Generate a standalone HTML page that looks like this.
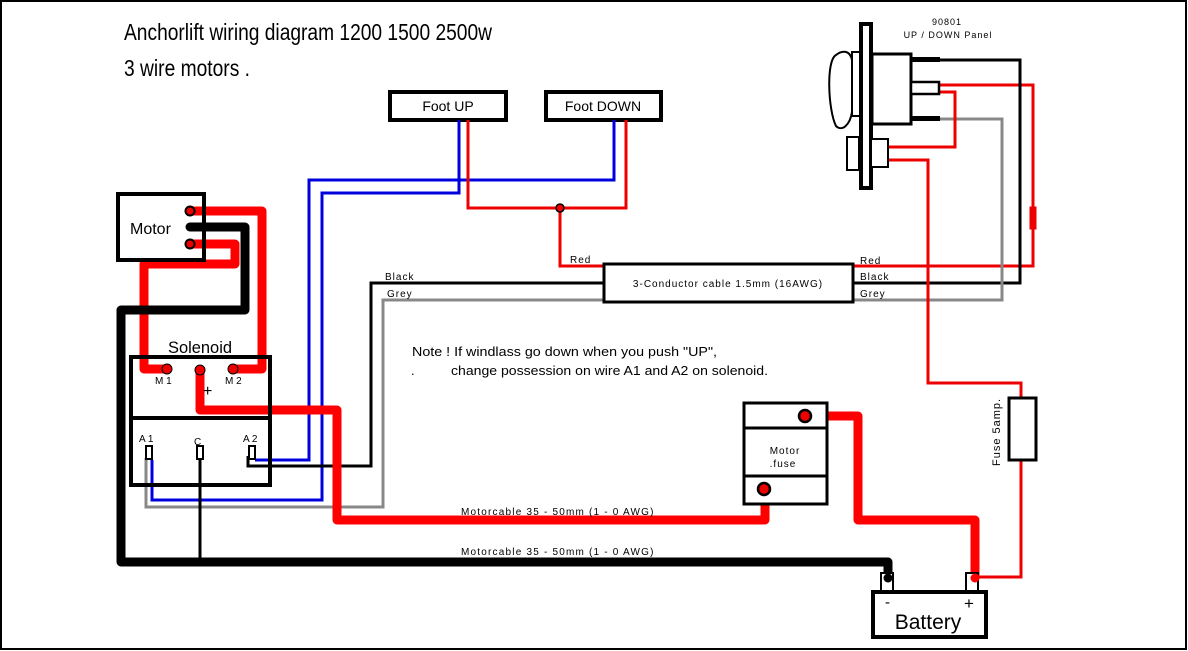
<!DOCTYPE html>
<html><head><meta charset="utf-8"><style>
html,body{margin:0;padding:0;background:#fff;}
svg{display:block;}
text{font-family:"Liberation Sans",sans-serif;fill:#000;}
</style></head><body>
<svg width="1188" height="651" viewBox="0 0 1188 651" xmlns="http://www.w3.org/2000/svg">
<rect x="1" y="1" width="1185" height="648" fill="#fff" stroke="#000" stroke-width="2"/>

<text x="124" y="40" font-size="23" textLength="368" lengthAdjust="spacingAndGlyphs">Anchorlift wiring diagram 1200 1500 2500w</text>
<text x="124" y="76" font-size="23" textLength="126" lengthAdjust="spacingAndGlyphs">3 wire motors .</text>

<rect x="390" y="92" width="116" height="28" fill="#fff" stroke="#000" stroke-width="4"/>
<text x="448" y="111" font-size="14" text-anchor="middle">Foot UP</text>
<rect x="546" y="92" width="115" height="28" fill="#fff" stroke="#000" stroke-width="4"/>
<text x="603" y="111" font-size="14" text-anchor="middle">Foot DOWN</text>

<g fill="none" stroke-linejoin="miter">
<polyline points="459,120 459,193 322,193 322,500 152,500 152,460" stroke="#0000dd" stroke-width="3"/>
<polyline points="614,120 614,180 309,180 309,460 255,460" stroke="#0000dd" stroke-width="3"/>
<polyline points="468,120 468,208 626,208 626,120" stroke="#e00" stroke-width="3"/>
<polyline points="560,208 560,266 604,266" stroke="#e00" stroke-width="3"/>
<polyline points="604,283 371,283 371,466 248,466 248,456" stroke="#000" stroke-width="3"/>
<polyline points="604,300 383,300 383,507 146,507 146,458" stroke="#888" stroke-width="3"/>
<polyline points="853,266 1033,266 1033,85 940,85" stroke="#e00" stroke-width="3"/>
<polyline points="853,283 1020,283 1020,60 940,60" stroke="#000" stroke-width="3"/>
<polyline points="853,300 1002,300 1002,119 940,119" stroke="#888" stroke-width="3"/>
<polyline points="940,92 955,92 955,147 888,147" stroke="#e00" stroke-width="3"/>
<polyline points="888,160 928,160 928,383 1021,383 1021,577 975,577" stroke="#e00" stroke-width="3"/>
<line x1="200" y1="452" x2="200" y2="562" stroke="#000" stroke-width="3"/>
</g>
<g fill="none" stroke-linejoin="round" stroke-linecap="round">
<polyline points="191,211 262,211 262,369 233,369" stroke="#f00" stroke-width="9"/>
<polyline points="191,244 235,244 235,264 144,264 144,369 167,369" stroke="#f00" stroke-width="9"/>
<polyline points="191,227 245,227 245,310 121,310 121,562 888,562 888,578" stroke="#000" stroke-width="9"/>
<polyline points="200,370 200,410 337,410 337,520 765,520 765,490" stroke="#f00" stroke-width="9"/>
<polyline points="805,416 858,416 858,520 975,520 975,578" stroke="#f00" stroke-width="9"/>
</g>
<circle cx="560" cy="208" r="4" fill="#e00" stroke="#000" stroke-width="1.5"/>
<circle cx="200" cy="562" r="4" fill="#000"/>

<rect x="604" y="264" width="249" height="38" fill="#fff" stroke="#000" stroke-width="3"/>
<text x="728" y="287" font-size="10" text-anchor="middle" letter-spacing="1">3-Conductor cable 1.5mm (16AWG)</text>
<g font-size="10" letter-spacing="1">
<text x="570" y="263">Red</text>
<text x="385" y="280">Black</text>
<text x="387" y="297">Grey</text>
<text x="860" y="264">Red</text>
<text x="860" y="280">Black</text>
<text x="860" y="297">Grey</text>
</g>

<rect x="118" y="194" width="86" height="66" fill="none" stroke="#000" stroke-width="4"/>
<text x="130" y="234" font-size="16">Motor</text>
<circle cx="190" cy="211" r="4.5" fill="#e00" stroke="#000" stroke-width="2"/>
<circle cx="190" cy="227" r="4.5" fill="#000"/>
<circle cx="190" cy="244" r="4.5" fill="#e00" stroke="#000" stroke-width="2"/>

<text x="200" y="353" font-size="17" text-anchor="middle" textLength="64" lengthAdjust="spacingAndGlyphs">Solenoid</text>
<rect x="131" y="357" width="139" height="128" fill="none" stroke="#000" stroke-width="4"/>
<line x1="131" y1="418" x2="270" y2="418" stroke="#000" stroke-width="4"/>
<circle cx="167" cy="369" r="5" fill="#e00" stroke="#000" stroke-width="1"/>
<circle cx="200" cy="370" r="5" fill="#e00" stroke="#000" stroke-width="1"/>
<circle cx="233" cy="369" r="5" fill="#e00" stroke="#000" stroke-width="1"/>
<text x="155" y="384" font-size="10">M 1</text>
<text x="225" y="384" font-size="10">M 2</text>
<text x="203" y="396" font-size="16">+</text>
<text x="139" y="442" font-size="10">A 1</text>
<text x="194" y="445" font-size="10">C</text>
<text x="243" y="442" font-size="10">A 2</text>
<rect x="146" y="446" width="6" height="13" fill="#fff" stroke="#000" stroke-width="2"/>
<rect x="197" y="446" width="6" height="13" fill="#fff" stroke="#000" stroke-width="2"/>
<rect x="249" y="446" width="6" height="13" fill="#fff" stroke="#000" stroke-width="2"/>

<text x="412" y="356" font-size="13" textLength="305" lengthAdjust="spacingAndGlyphs">Note ! If  windlass go down when you push "UP",</text>
<text x="411" y="375" font-size="13">.</text>
<text x="451" y="375" font-size="13" textLength="317" lengthAdjust="spacingAndGlyphs">change possession on wire A1  and A2 on solenoid.</text>

<text x="461" y="515" font-size="10" letter-spacing="1.2">Motorcable 35 - 50mm (1 - 0 AWG)</text>
<text x="461" y="555" font-size="10" letter-spacing="1.2">Motorcable 35 - 50mm (1 - 0 AWG)</text>

<rect x="744" y="403" width="83" height="101" fill="#fff" stroke="#000" stroke-width="3"/>
<line x1="744" y1="428" x2="827" y2="428" stroke="#000" stroke-width="3"/>
<line x1="744" y1="476" x2="827" y2="476" stroke="#000" stroke-width="3"/>
<text x="785" y="454" font-size="10" text-anchor="middle" letter-spacing="1">Motor</text>
<text x="783" y="467" font-size="10" text-anchor="middle" letter-spacing="1">.fuse</text>
<circle cx="805" cy="416" r="6" fill="#e00" stroke="#000" stroke-width="2.5"/>
<circle cx="764" cy="489" r="6" fill="#e00" stroke="#000" stroke-width="2.5"/>

<rect x="1009" y="398" width="27" height="62" fill="#fff" stroke="#000" stroke-width="3"/>
<text transform="translate(1000,466) rotate(-90)" font-size="11" letter-spacing="1">Fuse 5amp.</text>
<rect x="1030" y="207" width="6" height="22" fill="#e00" stroke="#e00"/>

<rect x="881" y="573" width="12" height="20" fill="#fff" stroke="#000" stroke-width="2"/>
<rect x="966" y="573" width="12" height="20" fill="#fff" stroke="#000" stroke-width="2"/>
<circle cx="888" cy="578" r="4.5" fill="#000"/>
<circle cx="975" cy="578" r="4.5" fill="#f00"/>
<rect x="873" y="592" width="113" height="45" fill="#fff" stroke="#000" stroke-width="4"/>
<text x="885" y="607" font-size="15">-</text>
<text x="964" y="609" font-size="17">+</text>
<text x="928" y="629" font-size="21" text-anchor="middle">Battery</text>

<text x="947" y="25" font-size="9" text-anchor="middle" letter-spacing="1">90801</text>
<text x="948" y="38" font-size="9" text-anchor="middle" letter-spacing="1">UP / DOWN Panel</text>
<path d="M836,55 C826,60 828,110 836,126 C842,132 850,125 852,112 L852,60 C850,50 842,50 836,55 Z" fill="#fff" stroke="#000" stroke-width="2"/>
<rect x="852" y="52" width="8" height="64" fill="#fff" stroke="#000" stroke-width="2"/>
<rect x="861" y="24" width="10" height="164" fill="#fff" stroke="#000" stroke-width="4"/>
<rect x="872" y="54" width="39" height="70" fill="#fff" stroke="#000" stroke-width="3"/>
<rect x="911" y="57" width="29" height="5" fill="#000"/>
<rect x="911" y="82" width="28" height="12" fill="#fff" stroke="#000" stroke-width="2.5"/>
<rect x="911" y="116" width="29" height="5" fill="#000"/>
<rect x="847" y="137" width="12" height="33" fill="#fff" stroke="#000" stroke-width="2"/>
<rect x="871" y="139" width="17" height="28" fill="#fff" stroke="#000" stroke-width="2"/>
</svg>
</body></html>
